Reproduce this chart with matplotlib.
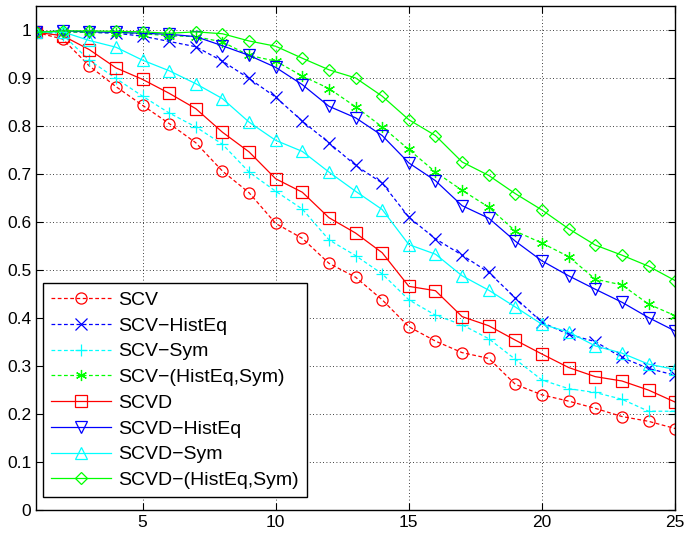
import matplotlib
matplotlib.use("Agg")
import matplotlib.pyplot as plt

plt.rcParams['font.family'] = ['Liberation Sans', 'DejaVu Sans']

x = list(range(1, 26))

scv = [0.995, 0.981, 0.925, 0.882, 0.843, 0.805, 0.765, 0.706, 0.661, 0.597,
       0.566, 0.514, 0.485, 0.438, 0.382, 0.352, 0.328, 0.316, 0.262, 0.240,
       0.227, 0.212, 0.195, 0.185, 0.170]
scv_histeq = [0.995, 0.996, 0.995, 0.993, 0.987, 0.976, 0.965, 0.935, 0.899, 0.860,
              0.810, 0.765, 0.718, 0.681, 0.610, 0.565, 0.531, 0.495, 0.442, 0.391,
              0.366, 0.351, 0.318, 0.295, 0.281]
scv_sym = [0.995, 0.990, 0.937, 0.899, 0.862, 0.827, 0.798, 0.762, 0.704, 0.664,
           0.627, 0.563, 0.530, 0.492, 0.438, 0.406, 0.386, 0.357, 0.314, 0.271,
           0.253, 0.245, 0.231, 0.206, 0.206]
scv_histeq_sym = [0.995, 0.996, 0.995, 0.994, 0.992, 0.988, 0.986, 0.975, 0.947, 0.935,
                  0.904, 0.878, 0.840, 0.798, 0.751, 0.704, 0.666, 0.631, 0.581, 0.556,
                  0.528, 0.481, 0.469, 0.429, 0.405]
scvd = [0.995, 0.988, 0.959, 0.921, 0.897, 0.868, 0.836, 0.787, 0.746, 0.690,
        0.662, 0.609, 0.577, 0.536, 0.466, 0.457, 0.403, 0.384, 0.354, 0.325,
        0.297, 0.278, 0.269, 0.250, 0.225]
scvd_histeq = [0.995, 0.998, 0.996, 0.995, 0.993, 0.991, 0.986, 0.967, 0.947, 0.922,
               0.886, 0.841, 0.817, 0.780, 0.723, 0.686, 0.634, 0.608, 0.560, 0.519,
               0.488, 0.460, 0.433, 0.401, 0.373]
scvd_sym = [0.995, 0.996, 0.978, 0.964, 0.937, 0.915, 0.888, 0.857, 0.808, 0.770,
            0.747, 0.704, 0.664, 0.626, 0.553, 0.533, 0.488, 0.458, 0.423, 0.387,
            0.371, 0.342, 0.327, 0.304, 0.293]
scvd_histeq_sym = [0.995, 0.998, 0.998, 0.997, 0.996, 0.993, 0.996, 0.992, 0.977, 0.966,
                   0.941, 0.917, 0.900, 0.862, 0.813, 0.780, 0.725, 0.697, 0.659, 0.625,
                   0.586, 0.552, 0.531, 0.508, 0.478]

labels = ["SCV", "SCV\u2212HistEq", "SCV\u2212Sym", "SCV\u2212(HistEq,Sym)",
          "SCVD", "SCVD\u2212HistEq", "SCVD\u2212Sym", "SCVD\u2212(HistEq,Sym)"]

# MATLAB-like pure colours
RED, BLUE, CYAN, GREEN = '#ff0000', '#0000ff', '#00ffff', '#00ff00'
dash = (0, (3, 2))
asterisk = (6, 2, 0)
styles = [
    (scv, RED, 'o', dash),
    (scv_histeq, BLUE, 'x', dash),
    (scv_sym, CYAN, '+', dash),
    (scv_histeq_sym, GREEN, asterisk, dash),
    (scvd, RED, 's', '-'),
    (scvd_histeq, BLUE, 'v', '-'),
    (scvd_sym, CYAN, '^', '-'),
    (scvd_histeq_sym, GREEN, 'D', '-'),
]

fig = plt.figure(figsize=(6.85, 5.37), dpi=100)
ax = fig.add_axes([0.0526, 0.050, 0.933, 0.939])

for (vals, col, mk, ls), lab in zip(styles, labels):
    ms = 6.5 if mk == 'D' else 8
    ax.plot(x, vals, color=col, marker=mk, linestyle=ls, linewidth=0.9,
            markersize=ms, markerfacecolor='none', markeredgecolor=col,
            markeredgewidth=0.9, label=lab)

ax.set_xlim(1, 25)
ax.set_ylim(0, 1.05)
ax.set_xticks([5, 10, 15, 20, 25])
ax.set_yticks([i / 10 for i in range(11)])
ax.set_yticklabels(["0", "0.1", "0.2", "0.3", "0.4", "0.5", "0.6", "0.7", "0.8", "0.9", "1"])
ax.tick_params(direction='in', top=True, right=True, length=5, width=0.8, labelsize=12.5)
ax.grid(True, color='black', linestyle=(0, (1, 3)), linewidth=0.6)
for s in ax.spines.values():
    s.set_linewidth(1.0)

leg = ax.legend(loc='lower left', bbox_to_anchor=(0.0105, 0.026), borderaxespad=0,
                fontsize=14, fancybox=False, edgecolor='black', framealpha=1,
                handlelength=3.1, handletextpad=0.4, labelspacing=0.42,
                borderpad=0.4)
leg.get_frame().set_linewidth(1.0)

fig.savefig("out.png", dpi=100)
